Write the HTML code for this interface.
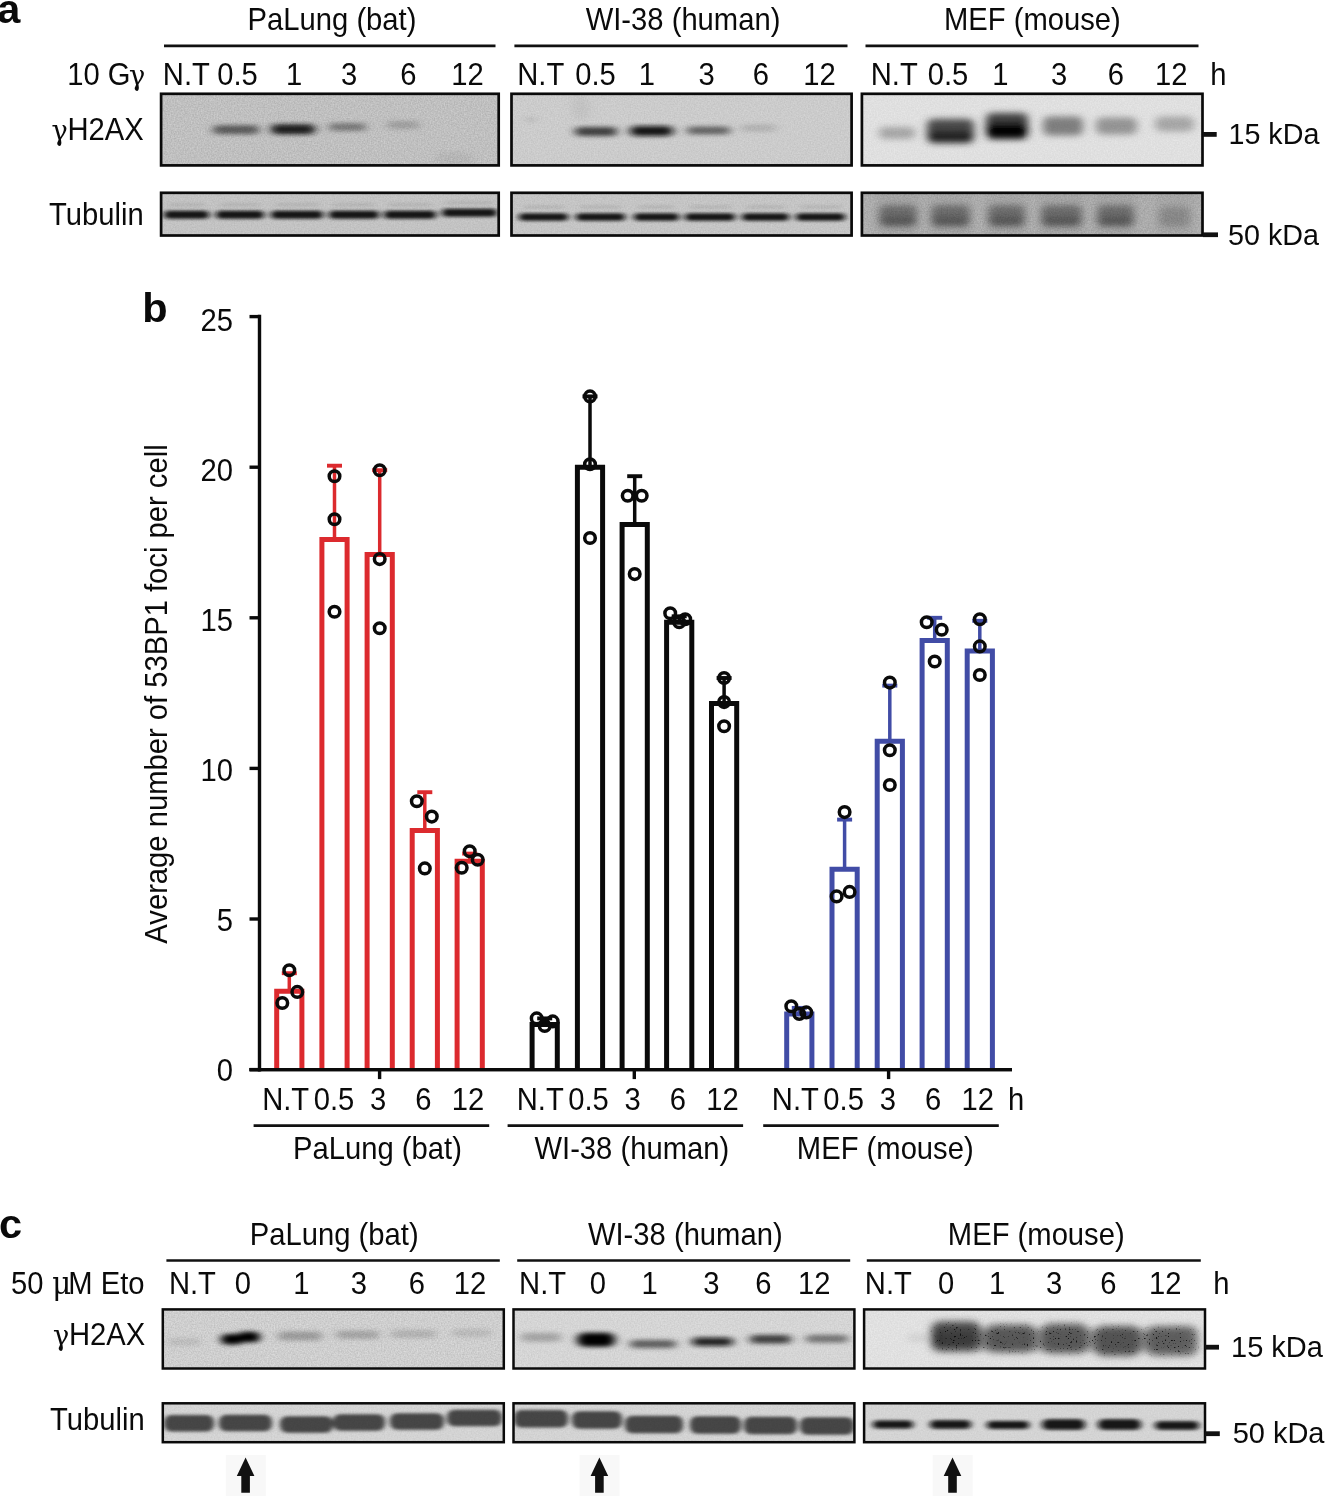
<!DOCTYPE html>
<html lang="en">
<head>
<meta charset="utf-8">
<title>DNA damage response in bat, human and mouse cells</title>
<style>
html,body{margin:0;padding:0;background:#fff}
svg{display:block}
text{font-family:"Liberation Sans",Arial,Helvetica,sans-serif;fill:#0a0a0a}
</style>
</head>
<body>
<svg width="1325" height="1496" viewBox="0 0 1325 1496">
<defs>
<filter id="bl2p5_1p8" x="-20%" y="-200%" width="140%" height="500%"><feGaussianBlur stdDeviation="2.5 1.8"/></filter>
<filter id="bl3_1p5" x="-20%" y="-200%" width="140%" height="500%"><feGaussianBlur stdDeviation="3 1.5"/></filter>
<filter id="bl4_2" x="-20%" y="-200%" width="140%" height="500%"><feGaussianBlur stdDeviation="4 2"/></filter>
<filter id="bl4_3" x="-20%" y="-200%" width="140%" height="500%"><feGaussianBlur stdDeviation="4 3"/></filter>
<filter id="bl4p5_3p5" x="-20%" y="-200%" width="140%" height="500%"><feGaussianBlur stdDeviation="4.5 3.5"/></filter>
<filter id="bl5_2" x="-20%" y="-200%" width="140%" height="500%"><feGaussianBlur stdDeviation="5 2"/></filter>
<filter id="bl6_4" x="-20%" y="-200%" width="140%" height="500%"><feGaussianBlur stdDeviation="6 4"/></filter>
<filter id="speck" x="-10%" y="-30%" width="120%" height="160%"><feGaussianBlur stdDeviation="4 3" result="b"/><feTurbulence type="fractalNoise" baseFrequency="0.55" numOctaves="2" seed="11" result="t"/><feColorMatrix in="t" type="matrix" values="0 0 0 0 0  0 0 0 0 0  0 0 0 0 0  9 0 0 0 -5.9" result="n"/><feComposite in="n" in2="b" operator="in"/></filter>
<filter id="noise" x="0" y="0" width="100%" height="100%"><feTurbulence type="fractalNoise" baseFrequency="0.7" numOctaves="2" seed="3"/><feColorMatrix type="matrix" values="0 0 0 0 0  0 0 0 0 0  0 0 0 0 0  1.6 0 0 0 -0.3"/></filter>
</defs>
<rect width="1325" height="1496" fill="#fff"/>
<g id="panel-a">
<text transform="translate(-2.85,22.70) scale(1,1.0)" font-size="41.5" font-weight="bold">a</text>
<text transform="translate(247.62,29.90) scale(1,1.045)" font-size="29.2">PaLung (bat)</text>
<text transform="translate(585.68,29.90) scale(1,1.045)" font-size="29.2">WI-38 (human)</text>
<text transform="translate(943.95,29.90) scale(1,1.045)" font-size="29.2">MEF (mouse)</text>
<line x1="164.0" y1="45.9" x2="495.5" y2="45.9" stroke="#111" stroke-width="2.6"/>
<line x1="514.4" y1="45.9" x2="847.5" y2="45.9" stroke="#111" stroke-width="2.6"/>
<line x1="865.5" y1="45.9" x2="1198.5" y2="45.9" stroke="#111" stroke-width="2.6"/>
<text transform="translate(0,84.8) scale(1,1.045)" font-size="29.2"><tspan x="67.21">10 G</tspan><tspan x="127.8" font-family="'DejaVu Math TeX Gyre','DejaVu Serif',serif" font-size="27.3">γ</tspan></text>
<text transform="translate(162.80,84.80) scale(1,1.045)" font-size="29.2">N.T</text>
<text transform="translate(217.22,84.80) scale(1,1.045)" font-size="29.2">0.5</text>
<text transform="translate(286.05,84.80) scale(1,1.045)" font-size="29.2">1</text>
<text transform="translate(340.97,84.80) scale(1,1.045)" font-size="29.2">3</text>
<text transform="translate(400.26,84.80) scale(1,1.045)" font-size="29.2">6</text>
<text transform="translate(451.32,84.80) scale(1,1.045)" font-size="29.2">12</text>
<text transform="translate(517.20,84.80) scale(1,1.045)" font-size="29.2">N.T</text>
<text transform="translate(575.17,84.80) scale(1,1.045)" font-size="29.2">0.5</text>
<text transform="translate(638.75,84.80) scale(1,1.045)" font-size="29.2">1</text>
<text transform="translate(698.62,84.80) scale(1,1.045)" font-size="29.2">3</text>
<text transform="translate(752.76,84.80) scale(1,1.045)" font-size="29.2">6</text>
<text transform="translate(803.17,84.80) scale(1,1.045)" font-size="29.2">12</text>
<text transform="translate(870.75,84.80) scale(1,1.045)" font-size="29.2">N.T</text>
<text transform="translate(927.72,84.80) scale(1,1.045)" font-size="29.2">0.5</text>
<text transform="translate(992.15,84.80) scale(1,1.045)" font-size="29.2">1</text>
<text transform="translate(1051.12,84.80) scale(1,1.045)" font-size="29.2">3</text>
<text transform="translate(1107.86,84.80) scale(1,1.045)" font-size="29.2">6</text>
<text transform="translate(1155.02,84.80) scale(1,1.045)" font-size="29.2">12</text>
<text transform="translate(1210.16,84.80) scale(1,1.045)" font-size="29.2">h</text>
<text transform="translate(0,139.5) scale(1,1.045)" font-size="29.2"><tspan x="50.3" font-family="'DejaVu Math TeX Gyre','DejaVu Serif',serif" font-size="27.3">γ</tspan><tspan x="67.50">H2AX</tspan></text>
<text transform="translate(48.97,224.80) scale(1,1.045)" font-size="29.2">Tubulin</text>
<text transform="translate(1228.45,144.00) scale(1,1.045)" font-size="28.7">15 kDa</text>
<text transform="translate(1228.07,245.00) scale(1,1.045)" font-size="28.7">50 kDa</text>
<clipPath id="c1"><rect x="161.1" y="93.8" width="337.6" height="71.60000000000001"/></clipPath>
<g clip-path="url(#c1)">
<rect x="161.1" y="93.8" width="337.6" height="71.60000000000001" fill="#cdcdcd"/>
<g filter="url(#bl5_2)">
<rect x="213.0" y="125.2" width="46.0" height="9.0" rx="4.5" fill="rgb(60,60,60)" opacity="0.75"/>
<rect x="271.0" y="124.3" width="44.0" height="10.0" rx="5.0" fill="rgb(20,20,20)" opacity="0.95"/>
<rect x="329.0" y="123.0" width="37.0" height="8.0" rx="4.0" fill="rgb(80,80,80)" opacity="0.6"/>
<rect x="387.0" y="121.0" width="32.0" height="8.0" rx="4.0" fill="rgb(110,110,110)" opacity="0.38"/>
<rect x="436.0" y="152.0" width="38.0" height="16.0" rx="8.0" fill="rgb(150,150,150)" opacity="0.2"/>
</g>
<rect x="161.1" y="93.8" width="337.6" height="71.60000000000001" filter="url(#noise)" opacity="0.13"/>
</g>
<rect x="161.1" y="93.8" width="337.6" height="71.60000000000001" fill="none" stroke="#0a0a0a" stroke-width="2.7"/>
<clipPath id="c2"><rect x="511.5" y="93.8" width="340.1" height="71.60000000000001"/></clipPath>
<g clip-path="url(#c2)">
<rect x="511.5" y="93.8" width="340.1" height="71.60000000000001" fill="#d4d4d4"/>
<g filter="url(#bl5_2)">
<rect x="529.0" y="117.8" width="4.0" height="3.5" rx="1.8" fill="rgb(110,110,110)" opacity="0.8"/>
<rect x="575.0" y="127.0" width="42.0" height="9.0" rx="4.5" fill="rgb(40,40,40)" opacity="0.85"/>
<rect x="630.0" y="126.0" width="43.0" height="10.0" rx="5.0" fill="rgb(15,15,15)" opacity="0.95"/>
<rect x="687.0" y="126.4" width="43.0" height="8.0" rx="4.0" fill="rgb(60,60,60)" opacity="0.7"/>
<rect x="741.0" y="124.5" width="35.0" height="7.0" rx="3.5" fill="rgb(140,140,140)" opacity="0.4"/>
<rect x="572.0" y="95.0" width="18.0" height="26.0" rx="13.0" fill="rgb(170,170,170)" opacity="0.25"/>
</g>
<rect x="511.5" y="93.8" width="340.1" height="71.60000000000001" filter="url(#noise)" opacity="0.08"/>
</g>
<rect x="511.5" y="93.8" width="340.1" height="71.60000000000001" fill="none" stroke="#0a0a0a" stroke-width="2.7"/>
<clipPath id="c3"><rect x="861.9" y="93.8" width="340.6" height="71.60000000000001"/></clipPath>
<g clip-path="url(#c3)">
<rect x="861.9" y="93.8" width="340.6" height="71.60000000000001" fill="#e6e6e6"/>
<g filter="url(#bl4_3)">
<rect x="879.0" y="127.0" width="36.0" height="12.0" rx="5.0" fill="rgb(150,150,150)" opacity="0.75"/>
<rect x="927.0" y="119.0" width="47.0" height="24.0" rx="6.0" fill="rgb(60,60,60)" opacity="0.9"/>
<rect x="929.0" y="131.0" width="43.0" height="12.0" rx="5.0" fill="rgb(20,20,20)" opacity="0.7"/>
<rect x="986.0" y="113.0" width="42.0" height="26.0" rx="6.0" fill="rgb(50,50,50)" opacity="0.9"/>
<rect x="987.0" y="123.5" width="40.0" height="15.0" rx="6.0" fill="rgb(0,0,0)" opacity="0.9"/>
<rect x="1043.0" y="116.5" width="40.0" height="19.0" rx="6.0" fill="rgb(105,105,105)" opacity="0.8"/>
<rect x="1096.0" y="117.5" width="41.0" height="17.0" rx="6.0" fill="rgb(125,125,125)" opacity="0.75"/>
<rect x="1155.0" y="116.5" width="39.0" height="15.0" rx="6.0" fill="rgb(145,145,145)" opacity="0.7"/>
</g>
<rect x="861.9" y="93.8" width="340.6" height="71.60000000000001" filter="url(#noise)" opacity="0.05"/>
</g>
<rect x="861.9" y="93.8" width="340.6" height="71.60000000000001" fill="none" stroke="#0a0a0a" stroke-width="2.7"/>
<clipPath id="c4"><rect x="161.1" y="192.8" width="337.6" height="42.69999999999999"/></clipPath>
<g clip-path="url(#c4)">
<rect x="161.1" y="192.8" width="337.6" height="42.69999999999999" fill="#cbcbcb"/>
<g filter="url(#bl3_1p5)">
<rect x="164.0" y="210.8" width="45.0" height="8.0" rx="4.0" fill="rgb(15,15,15)" opacity="0.95"/>
<rect x="216.0" y="210.8" width="48.0" height="8.0" rx="4.0" fill="rgb(15,15,15)" opacity="0.95"/>
<rect x="271.0" y="210.8" width="52.0" height="8.0" rx="4.0" fill="rgb(15,15,15)" opacity="0.95"/>
<rect x="329.0" y="210.8" width="50.0" height="8.0" rx="4.0" fill="rgb(15,15,15)" opacity="0.95"/>
<rect x="384.0" y="210.8" width="52.0" height="8.0" rx="4.0" fill="rgb(15,15,15)" opacity="0.95"/>
<rect x="442.0" y="208.8" width="55.0" height="8.0" rx="4.0" fill="rgb(15,15,15)" opacity="0.95"/>
<rect x="168.0" y="203.1" width="37.0" height="3.5" rx="1.8" fill="rgb(150,150,150)" opacity="0.3"/>
<rect x="220.0" y="203.1" width="40.0" height="3.5" rx="1.8" fill="rgb(150,150,150)" opacity="0.3"/>
<rect x="275.0" y="203.1" width="44.0" height="3.5" rx="1.8" fill="rgb(150,150,150)" opacity="0.3"/>
<rect x="333.0" y="203.1" width="42.0" height="3.5" rx="1.8" fill="rgb(150,150,150)" opacity="0.3"/>
<rect x="388.0" y="203.1" width="44.0" height="3.5" rx="1.8" fill="rgb(150,150,150)" opacity="0.3"/>
<rect x="446.0" y="201.1" width="47.0" height="3.5" rx="1.8" fill="rgb(150,150,150)" opacity="0.3"/>
</g>
<rect x="161.1" y="192.8" width="337.6" height="42.69999999999999" filter="url(#noise)" opacity="0.08"/>
</g>
<rect x="161.1" y="192.8" width="337.6" height="42.69999999999999" fill="none" stroke="#0a0a0a" stroke-width="2.7"/>
<clipPath id="c5"><rect x="511.5" y="192.8" width="340.1" height="42.69999999999999"/></clipPath>
<g clip-path="url(#c5)">
<rect x="511.5" y="192.8" width="340.1" height="42.69999999999999" fill="#cdcdcd"/>
<g filter="url(#bl3_1p5)">
<rect x="519.0" y="213.2" width="49.0" height="7.5" rx="3.8" fill="rgb(15,15,15)" opacity="0.95"/>
<rect x="576.0" y="213.2" width="49.0" height="7.5" rx="3.8" fill="rgb(15,15,15)" opacity="0.95"/>
<rect x="634.0" y="213.2" width="45.0" height="7.5" rx="3.8" fill="rgb(15,15,15)" opacity="0.95"/>
<rect x="685.0" y="213.2" width="50.0" height="7.5" rx="3.8" fill="rgb(15,15,15)" opacity="0.95"/>
<rect x="742.0" y="213.2" width="47.0" height="7.5" rx="3.8" fill="rgb(15,15,15)" opacity="0.95"/>
<rect x="796.0" y="213.2" width="49.0" height="7.5" rx="3.8" fill="rgb(15,15,15)" opacity="0.95"/>
<rect x="523.0" y="205.2" width="41.0" height="3.5" rx="1.8" fill="rgb(150,150,150)" opacity="0.3"/>
<rect x="580.0" y="205.2" width="41.0" height="3.5" rx="1.8" fill="rgb(150,150,150)" opacity="0.3"/>
<rect x="638.0" y="205.2" width="37.0" height="3.5" rx="1.8" fill="rgb(150,150,150)" opacity="0.3"/>
<rect x="689.0" y="205.2" width="42.0" height="3.5" rx="1.8" fill="rgb(150,150,150)" opacity="0.3"/>
<rect x="746.0" y="205.2" width="39.0" height="3.5" rx="1.8" fill="rgb(150,150,150)" opacity="0.3"/>
<rect x="800.0" y="205.2" width="41.0" height="3.5" rx="1.8" fill="rgb(150,150,150)" opacity="0.3"/>
</g>
<rect x="511.5" y="192.8" width="340.1" height="42.69999999999999" filter="url(#noise)" opacity="0.08"/>
</g>
<rect x="511.5" y="192.8" width="340.1" height="42.69999999999999" fill="none" stroke="#0a0a0a" stroke-width="2.7"/>
<clipPath id="c6"><rect x="861.9" y="192.8" width="340.6" height="42.69999999999999"/></clipPath>
<g clip-path="url(#c6)">
<rect x="861.9" y="192.8" width="340.6" height="42.69999999999999" fill="#bababa"/>
<g filter="url(#bl4_3)">
<rect x="877.0" y="188.0" width="42.0" height="50.0" rx="3.0" fill="rgb(150,150,150)" opacity="0.25"/>
<rect x="929.0" y="188.0" width="43.0" height="50.0" rx="3.0" fill="rgb(150,150,150)" opacity="0.25"/>
<rect x="986.0" y="188.0" width="41.0" height="50.0" rx="3.0" fill="rgb(150,150,150)" opacity="0.25"/>
<rect x="1039.0" y="188.0" width="45.0" height="50.0" rx="3.0" fill="rgb(150,150,150)" opacity="0.25"/>
<rect x="1095.0" y="188.0" width="41.0" height="50.0" rx="3.0" fill="rgb(150,150,150)" opacity="0.25"/>
<rect x="1156.0" y="188.0" width="36.0" height="50.0" rx="3.0" fill="rgb(150,150,150)" opacity="0.25"/>
<rect x="879.0" y="205.0" width="38.0" height="22.0" rx="6.0" fill="rgb(95,95,95)" opacity="0.75"/>
<rect x="931.0" y="205.0" width="39.0" height="22.0" rx="6.0" fill="rgb(95,95,95)" opacity="0.75"/>
<rect x="988.0" y="205.0" width="37.0" height="22.0" rx="6.0" fill="rgb(95,95,95)" opacity="0.75"/>
<rect x="1041.0" y="205.0" width="41.0" height="22.0" rx="6.0" fill="rgb(95,95,95)" opacity="0.75"/>
<rect x="1097.0" y="205.0" width="37.0" height="22.0" rx="6.0" fill="rgb(95,95,95)" opacity="0.75"/>
<rect x="1159.0" y="207.0" width="31.0" height="20.0" rx="6.0" fill="rgb(120,120,120)" opacity="0.55"/>
<rect x="881.0" y="216.5" width="34.0" height="9.0" rx="4.0" fill="rgb(70,70,70)" opacity="0.5"/>
<rect x="933.0" y="216.5" width="35.0" height="9.0" rx="4.0" fill="rgb(70,70,70)" opacity="0.5"/>
<rect x="990.0" y="216.5" width="33.0" height="9.0" rx="4.0" fill="rgb(70,70,70)" opacity="0.5"/>
<rect x="1043.0" y="216.5" width="37.0" height="9.0" rx="4.0" fill="rgb(70,70,70)" opacity="0.5"/>
<rect x="1099.0" y="216.5" width="33.0" height="9.0" rx="4.0" fill="rgb(70,70,70)" opacity="0.5"/>
</g>
<rect x="861.9" y="192.8" width="340.6" height="42.69999999999999" filter="url(#noise)" opacity="0.14"/>
</g>
<rect x="861.9" y="192.8" width="340.6" height="42.69999999999999" fill="none" stroke="#0a0a0a" stroke-width="2.7"/>
<rect x="1203" y="132.0" width="13.7" height="4.8" fill="#111"/>
<rect x="1203" y="232.4" width="15" height="4.7" fill="#111"/>
</g>
<g id="panel-b">
<text transform="translate(142.13,322.30) scale(1,1.0)" font-size="41.5" font-weight="bold">b</text>
<line x1="259.5" y1="314.8" x2="259.5" y2="1071.4" stroke="#0a0a0a" stroke-width="3.4"/>
<line x1="249.5" y1="1069.6" x2="1012" y2="1069.6" stroke="#0a0a0a" stroke-width="3.4"/>
<line x1="249.5" y1="1069.6" x2="260" y2="1069.6" stroke="#0a0a0a" stroke-width="3.4"/>
<text transform="translate(233,1081.2) scale(1,1.045)" font-size="29.2" text-anchor="end">0</text>
<line x1="249.5" y1="919.0" x2="260" y2="919.0" stroke="#0a0a0a" stroke-width="3.4"/>
<text transform="translate(233,931.1) scale(1,1.045)" font-size="29.2" text-anchor="end">5</text>
<line x1="249.5" y1="768.4" x2="260" y2="768.4" stroke="#0a0a0a" stroke-width="3.4"/>
<text transform="translate(233,781.0) scale(1,1.045)" font-size="29.2" text-anchor="end">10</text>
<line x1="249.5" y1="617.8" x2="260" y2="617.8" stroke="#0a0a0a" stroke-width="3.4"/>
<text transform="translate(233,630.8) scale(1,1.045)" font-size="29.2" text-anchor="end">15</text>
<line x1="249.5" y1="467.2" x2="260" y2="467.2" stroke="#0a0a0a" stroke-width="3.4"/>
<text transform="translate(233,480.7) scale(1,1.045)" font-size="29.2" text-anchor="end">20</text>
<line x1="249.5" y1="316.6" x2="260" y2="316.6" stroke="#0a0a0a" stroke-width="3.4"/>
<text transform="translate(233,330.6) scale(1,1.045)" font-size="29.2" text-anchor="end">25</text>
<line x1="379.6" y1="1069.6" x2="379.6" y2="1079.1" stroke="#0a0a0a" stroke-width="3.4"/>
<line x1="634.3" y1="1069.6" x2="634.3" y2="1079.1" stroke="#0a0a0a" stroke-width="3.4"/>
<line x1="888.6" y1="1069.6" x2="888.6" y2="1079.1" stroke="#0a0a0a" stroke-width="3.4"/>
<text transform="translate(167.2,694) rotate(-90) scale(1,1.045)" font-size="29.2" text-anchor="middle">Average number of 53BP1 foci per cell</text>
<path d="M276.7 1069.6V991.3H301.9V1069.6" fill="none" stroke="#dc2a2e" stroke-width="5.0"/>
<path d="M289.3 991.3V973.2" fill="none" stroke="#dc2a2e" stroke-width="3.5"/>
<path d="M281.8 973.2H296.8" fill="none" stroke="#dc2a2e" stroke-width="3.9"/>
<path d="M321.9 1069.6V539.5H347.1V1069.6" fill="none" stroke="#dc2a2e" stroke-width="5.0"/>
<path d="M334.5 539.5V465.7" fill="none" stroke="#dc2a2e" stroke-width="3.5"/>
<path d="M327.0 465.7H342.0" fill="none" stroke="#dc2a2e" stroke-width="3.9"/>
<path d="M367.1 1069.6V554.5H392.3V1069.6" fill="none" stroke="#dc2a2e" stroke-width="5.0"/>
<path d="M379.7 554.5V470.2" fill="none" stroke="#dc2a2e" stroke-width="3.5"/>
<path d="M372.2 470.2H387.2" fill="none" stroke="#dc2a2e" stroke-width="3.9"/>
<path d="M412.2 1069.6V830.4H437.4V1069.6" fill="none" stroke="#dc2a2e" stroke-width="5.0"/>
<path d="M424.8 830.4V792.2" fill="none" stroke="#dc2a2e" stroke-width="3.5"/>
<path d="M417.3 792.2H432.3" fill="none" stroke="#dc2a2e" stroke-width="3.9"/>
<path d="M457.1 1069.6V861.2H482.3V1069.6" fill="none" stroke="#dc2a2e" stroke-width="5.0"/>
<path d="M469.7 861.2V853.6" fill="none" stroke="#dc2a2e" stroke-width="3.5"/>
<path d="M462.2 853.6H477.2" fill="none" stroke="#dc2a2e" stroke-width="3.9"/>
<circle cx="282.3" cy="1003.0" r="5.3" fill="none" stroke="#0a0a0a" stroke-width="3.5"/>
<circle cx="289.3" cy="970.2" r="5.3" fill="none" stroke="#0a0a0a" stroke-width="3.5"/>
<circle cx="297.3" cy="991.9" r="5.3" fill="none" stroke="#0a0a0a" stroke-width="3.5"/>
<circle cx="334.5" cy="476.2" r="5.3" fill="none" stroke="#0a0a0a" stroke-width="3.5"/>
<circle cx="334.5" cy="519.3" r="5.3" fill="none" stroke="#0a0a0a" stroke-width="3.5"/>
<circle cx="334.5" cy="611.8" r="5.3" fill="none" stroke="#0a0a0a" stroke-width="3.5"/>
<circle cx="379.7" cy="470.2" r="5.3" fill="none" stroke="#0a0a0a" stroke-width="3.5"/>
<circle cx="379.7" cy="559.1" r="5.3" fill="none" stroke="#0a0a0a" stroke-width="3.5"/>
<circle cx="379.7" cy="628.3" r="5.3" fill="none" stroke="#0a0a0a" stroke-width="3.5"/>
<circle cx="416.8" cy="801.2" r="5.3" fill="none" stroke="#0a0a0a" stroke-width="3.5"/>
<circle cx="431.8" cy="816.6" r="5.3" fill="none" stroke="#0a0a0a" stroke-width="3.5"/>
<circle cx="424.8" cy="868.4" r="5.3" fill="none" stroke="#0a0a0a" stroke-width="3.5"/>
<circle cx="461.7" cy="867.8" r="5.3" fill="none" stroke="#0a0a0a" stroke-width="3.5"/>
<circle cx="469.7" cy="851.2" r="5.3" fill="none" stroke="#0a0a0a" stroke-width="3.5"/>
<circle cx="477.7" cy="859.7" r="5.3" fill="none" stroke="#0a0a0a" stroke-width="3.5"/>
<path d="M532.1 1069.6V1024.4H557.3V1069.6" fill="none" stroke="#0a0a0a" stroke-width="5.0"/>
<path d="M544.7 1024.4V1018.4" fill="none" stroke="#0a0a0a" stroke-width="3.5"/>
<path d="M537.2 1018.4H552.2" fill="none" stroke="#0a0a0a" stroke-width="3.9"/>
<path d="M577.4 1069.6V467.2H602.6V1069.6" fill="none" stroke="#0a0a0a" stroke-width="5.0"/>
<path d="M590.0 467.2V396.4" fill="none" stroke="#0a0a0a" stroke-width="3.5"/>
<path d="M582.5 396.4H597.5" fill="none" stroke="#0a0a0a" stroke-width="3.9"/>
<path d="M622.1 1069.6V524.4H647.3V1069.6" fill="none" stroke="#0a0a0a" stroke-width="5.0"/>
<path d="M634.7 524.4V476.2" fill="none" stroke="#0a0a0a" stroke-width="3.5"/>
<path d="M627.2 476.2H642.2" fill="none" stroke="#0a0a0a" stroke-width="3.9"/>
<path d="M666.6 1069.6V622.3H691.8V1069.6" fill="none" stroke="#0a0a0a" stroke-width="5.0"/>
<path d="M679.2 622.3V616.3" fill="none" stroke="#0a0a0a" stroke-width="3.5"/>
<path d="M671.7 616.3H686.7" fill="none" stroke="#0a0a0a" stroke-width="3.9"/>
<path d="M711.5 1069.6V703.6H736.7V1069.6" fill="none" stroke="#0a0a0a" stroke-width="5.0"/>
<path d="M724.1 703.6V678.0" fill="none" stroke="#0a0a0a" stroke-width="3.5"/>
<path d="M716.6 678.0H731.6" fill="none" stroke="#0a0a0a" stroke-width="3.9"/>
<circle cx="536.7" cy="1018.4" r="5.3" fill="none" stroke="#0a0a0a" stroke-width="3.5"/>
<circle cx="544.7" cy="1025.9" r="5.3" fill="none" stroke="#0a0a0a" stroke-width="3.5"/>
<circle cx="552.7" cy="1021.4" r="5.3" fill="none" stroke="#0a0a0a" stroke-width="3.5"/>
<circle cx="590.0" cy="396.4" r="5.3" fill="none" stroke="#0a0a0a" stroke-width="3.5"/>
<circle cx="590.0" cy="464.2" r="5.3" fill="none" stroke="#0a0a0a" stroke-width="3.5"/>
<circle cx="590.0" cy="538.0" r="5.3" fill="none" stroke="#0a0a0a" stroke-width="3.5"/>
<circle cx="627.7" cy="495.8" r="5.3" fill="none" stroke="#0a0a0a" stroke-width="3.5"/>
<circle cx="641.7" cy="495.8" r="5.3" fill="none" stroke="#0a0a0a" stroke-width="3.5"/>
<circle cx="634.7" cy="574.1" r="5.3" fill="none" stroke="#0a0a0a" stroke-width="3.5"/>
<circle cx="670.2" cy="613.3" r="5.3" fill="none" stroke="#0a0a0a" stroke-width="3.5"/>
<circle cx="679.2" cy="622.3" r="5.3" fill="none" stroke="#0a0a0a" stroke-width="3.5"/>
<circle cx="685.2" cy="619.3" r="5.3" fill="none" stroke="#0a0a0a" stroke-width="3.5"/>
<circle cx="724.1" cy="678.0" r="5.3" fill="none" stroke="#0a0a0a" stroke-width="3.5"/>
<circle cx="724.1" cy="702.1" r="5.3" fill="none" stroke="#0a0a0a" stroke-width="3.5"/>
<circle cx="724.1" cy="726.2" r="5.3" fill="none" stroke="#0a0a0a" stroke-width="3.5"/>
<path d="M786.7 1069.6V1013.9H811.9V1069.6" fill="none" stroke="#414ca6" stroke-width="5.0"/>
<path d="M799.3 1013.9V1007.9" fill="none" stroke="#414ca6" stroke-width="3.5"/>
<path d="M791.8 1007.9H806.8" fill="none" stroke="#414ca6" stroke-width="3.9"/>
<path d="M832.0 1069.6V869.3H857.2V1069.6" fill="none" stroke="#414ca6" stroke-width="5.0"/>
<path d="M844.6 869.3V819.6" fill="none" stroke="#414ca6" stroke-width="3.5"/>
<path d="M837.1 819.6H852.1" fill="none" stroke="#414ca6" stroke-width="3.9"/>
<path d="M877.2 1069.6V741.3H902.4V1069.6" fill="none" stroke="#414ca6" stroke-width="5.0"/>
<path d="M889.8 741.3V685.6" fill="none" stroke="#414ca6" stroke-width="3.5"/>
<path d="M882.3 685.6H897.3" fill="none" stroke="#414ca6" stroke-width="3.9"/>
<path d="M922.1 1069.6V640.4H947.3V1069.6" fill="none" stroke="#414ca6" stroke-width="5.0"/>
<path d="M934.7 640.4V617.8" fill="none" stroke="#414ca6" stroke-width="3.5"/>
<path d="M927.2 617.8H942.2" fill="none" stroke="#414ca6" stroke-width="3.9"/>
<path d="M967.2 1069.6V650.9H992.4V1069.6" fill="none" stroke="#414ca6" stroke-width="5.0"/>
<path d="M979.8 650.9V620.8" fill="none" stroke="#414ca6" stroke-width="3.5"/>
<path d="M972.3 620.8H987.3" fill="none" stroke="#414ca6" stroke-width="3.9"/>
<circle cx="791.3" cy="1006.3" r="5.3" fill="none" stroke="#0a0a0a" stroke-width="3.5"/>
<circle cx="799.3" cy="1013.9" r="5.3" fill="none" stroke="#0a0a0a" stroke-width="3.5"/>
<circle cx="806.3" cy="1012.4" r="5.3" fill="none" stroke="#0a0a0a" stroke-width="3.5"/>
<circle cx="844.6" cy="812.1" r="5.3" fill="none" stroke="#0a0a0a" stroke-width="3.5"/>
<circle cx="836.6" cy="896.4" r="5.3" fill="none" stroke="#0a0a0a" stroke-width="3.5"/>
<circle cx="849.6" cy="891.9" r="5.3" fill="none" stroke="#0a0a0a" stroke-width="3.5"/>
<circle cx="889.8" cy="682.6" r="5.3" fill="none" stroke="#0a0a0a" stroke-width="3.5"/>
<circle cx="889.8" cy="750.3" r="5.3" fill="none" stroke="#0a0a0a" stroke-width="3.5"/>
<circle cx="889.8" cy="785.0" r="5.3" fill="none" stroke="#0a0a0a" stroke-width="3.5"/>
<circle cx="926.7" cy="622.3" r="5.3" fill="none" stroke="#0a0a0a" stroke-width="3.5"/>
<circle cx="941.7" cy="629.8" r="5.3" fill="none" stroke="#0a0a0a" stroke-width="3.5"/>
<circle cx="934.7" cy="661.5" r="5.3" fill="none" stroke="#0a0a0a" stroke-width="3.5"/>
<circle cx="979.8" cy="619.3" r="5.3" fill="none" stroke="#0a0a0a" stroke-width="3.5"/>
<circle cx="979.8" cy="646.4" r="5.3" fill="none" stroke="#0a0a0a" stroke-width="3.5"/>
<circle cx="979.8" cy="675.0" r="5.3" fill="none" stroke="#0a0a0a" stroke-width="3.5"/>
<line x1="249.5" y1="1069.6" x2="1012" y2="1069.6" stroke="#0a0a0a" stroke-width="3.4"/>
<text transform="translate(262.15,1109.70) scale(1,1.045)" font-size="29.2">N.T</text>
<text transform="translate(313.67,1109.70) scale(1,1.045)" font-size="29.2">0.5</text>
<text transform="translate(369.97,1109.70) scale(1,1.045)" font-size="29.2">3</text>
<text transform="translate(415.21,1109.70) scale(1,1.045)" font-size="29.2">6</text>
<text transform="translate(451.72,1109.70) scale(1,1.045)" font-size="29.2">12</text>
<text transform="translate(516.75,1109.70) scale(1,1.045)" font-size="29.2">N.T</text>
<text transform="translate(568.27,1109.70) scale(1,1.045)" font-size="29.2">0.5</text>
<text transform="translate(624.57,1109.70) scale(1,1.045)" font-size="29.2">3</text>
<text transform="translate(669.81,1109.70) scale(1,1.045)" font-size="29.2">6</text>
<text transform="translate(706.32,1109.70) scale(1,1.045)" font-size="29.2">12</text>
<text transform="translate(771.85,1109.70) scale(1,1.045)" font-size="29.2">N.T</text>
<text transform="translate(823.37,1109.70) scale(1,1.045)" font-size="29.2">0.5</text>
<text transform="translate(879.67,1109.70) scale(1,1.045)" font-size="29.2">3</text>
<text transform="translate(924.91,1109.70) scale(1,1.045)" font-size="29.2">6</text>
<text transform="translate(961.42,1109.70) scale(1,1.045)" font-size="29.2">12</text>
<text transform="translate(1008.01,1109.70) scale(1,1.045)" font-size="29.2">h</text>
<line x1="253.6" y1="1125.6" x2="489.2" y2="1125.6" stroke="#111" stroke-width="2.6"/>
<line x1="507.6" y1="1125.6" x2="743.1" y2="1125.6" stroke="#111" stroke-width="2.6"/>
<line x1="763.2" y1="1125.6" x2="998.8" y2="1125.6" stroke="#111" stroke-width="2.6"/>
<text transform="translate(293.07,1158.80) scale(1,1.045)" font-size="29.2">PaLung (bat)</text>
<text transform="translate(534.48,1158.80) scale(1,1.045)" font-size="29.2">WI-38 (human)</text>
<text transform="translate(796.85,1158.80) scale(1,1.045)" font-size="29.2">MEF (mouse)</text>
</g>
<g id="panel-c">
<text transform="translate(-1.01,1237.60) scale(1,1.0)" font-size="41.5" font-weight="bold">c</text>
<text transform="translate(249.82,1244.60) scale(1,1.045)" font-size="29.2">PaLung (bat)</text>
<text transform="translate(587.93,1244.60) scale(1,1.045)" font-size="29.2">WI-38 (human)</text>
<text transform="translate(947.85,1244.60) scale(1,1.045)" font-size="29.2">MEF (mouse)</text>
<line x1="166.4" y1="1260.5" x2="499.8" y2="1260.5" stroke="#111" stroke-width="2.6"/>
<line x1="517.2" y1="1260.5" x2="850.2" y2="1260.5" stroke="#111" stroke-width="2.6"/>
<line x1="866.8" y1="1260.5" x2="1200.8" y2="1260.5" stroke="#111" stroke-width="2.6"/>
<text transform="translate(0,1293.7) scale(1,1.045)" font-size="29.2"><tspan x="10.95">50 </tspan><tspan x="50.7" font-family="'DejaVu Math TeX Gyre','DejaVu Serif',serif" font-size="29.5">μ</tspan><tspan x="68.30">M Eto</tspan></text>
<text transform="translate(168.90,1293.70) scale(1,1.045)" font-size="29.2">N.T</text>
<text transform="translate(234.72,1293.70) scale(1,1.045)" font-size="29.2">0</text>
<text transform="translate(293.30,1293.70) scale(1,1.045)" font-size="29.2">1</text>
<text transform="translate(350.82,1293.70) scale(1,1.045)" font-size="29.2">3</text>
<text transform="translate(408.71,1293.70) scale(1,1.045)" font-size="29.2">6</text>
<text transform="translate(453.82,1293.70) scale(1,1.045)" font-size="29.2">12</text>
<text transform="translate(519.05,1293.70) scale(1,1.045)" font-size="29.2">N.T</text>
<text transform="translate(589.82,1293.70) scale(1,1.045)" font-size="29.2">0</text>
<text transform="translate(641.45,1293.70) scale(1,1.045)" font-size="29.2">1</text>
<text transform="translate(703.32,1293.70) scale(1,1.045)" font-size="29.2">3</text>
<text transform="translate(755.16,1293.70) scale(1,1.045)" font-size="29.2">6</text>
<text transform="translate(798.07,1293.70) scale(1,1.045)" font-size="29.2">12</text>
<text transform="translate(864.80,1293.70) scale(1,1.045)" font-size="29.2">N.T</text>
<text transform="translate(937.97,1293.70) scale(1,1.045)" font-size="29.2">0</text>
<text transform="translate(989.10,1293.70) scale(1,1.045)" font-size="29.2">1</text>
<text transform="translate(1046.02,1293.70) scale(1,1.045)" font-size="29.2">3</text>
<text transform="translate(1100.26,1293.70) scale(1,1.045)" font-size="29.2">6</text>
<text transform="translate(1149.07,1293.70) scale(1,1.045)" font-size="29.2">12</text>
<text transform="translate(1213.26,1293.70) scale(1,1.045)" font-size="29.2">h</text>
<text transform="translate(0,1345.2) scale(1,1.045)" font-size="29.2"><tspan x="51.8" font-family="'DejaVu Math TeX Gyre','DejaVu Serif',serif" font-size="27.3">γ</tspan><tspan x="68.90">H2AX</tspan></text>
<text transform="translate(50.07,1429.80) scale(1,1.045)" font-size="29.2">Tubulin</text>
<text transform="translate(1231.03,1357.00) scale(1,1.045)" font-size="29.0">15 kDa</text>
<text transform="translate(1232.66,1442.90) scale(1,1.045)" font-size="29.0">50 kDa</text>
<clipPath id="c7"><rect x="162.8" y="1309.4" width="341.0" height="59.09999999999991"/></clipPath>
<g clip-path="url(#c7)">
<rect x="162.8" y="1309.4" width="341.0" height="59.09999999999991" fill="#dcdcdc"/>
<g filter="url(#bl4_2)">
<rect x="168.0" y="1338.0" width="32.0" height="8.0" rx="4.0" fill="rgb(170,170,170)" opacity="0.4"/>
<rect x="221.0" y="1334.0" width="22.0" height="10.5" rx="5.2" fill="rgb(5,5,5)" opacity="1.0"/>
<rect x="238.0" y="1331.8" width="22.0" height="10.5" rx="5.2" fill="rgb(5,5,5)" opacity="1.0"/>
<rect x="278.0" y="1331.5" width="44.0" height="9.0" rx="4.5" fill="rgb(110,110,110)" opacity="0.5"/>
<rect x="336.0" y="1330.5" width="43.0" height="8.5" rx="4.2" fill="rgb(120,120,120)" opacity="0.45"/>
<rect x="391.0" y="1330.0" width="45.0" height="8.0" rx="4.0" fill="rgb(135,135,135)" opacity="0.38"/>
<rect x="452.0" y="1329.0" width="39.0" height="8.0" rx="4.0" fill="rgb(145,145,145)" opacity="0.32"/>
</g>
<rect x="162.8" y="1309.4" width="341.0" height="59.09999999999991" filter="url(#noise)" opacity="0.12"/>
</g>
<rect x="162.8" y="1309.4" width="341.0" height="59.09999999999991" fill="none" stroke="#0a0a0a" stroke-width="2.5"/>
<clipPath id="c8"><rect x="513.5" y="1309.4" width="340.9" height="59.09999999999991"/></clipPath>
<g clip-path="url(#c8)">
<rect x="513.5" y="1309.4" width="340.9" height="59.09999999999991" fill="#dedede"/>
<g filter="url(#bl5_2)">
<rect x="521.0" y="1332.8" width="40.0" height="9.0" rx="4.5" fill="rgb(120,120,120)" opacity="0.5"/>
<rect x="577.0" y="1332.8" width="38.0" height="14.0" rx="7.0" fill="rgb(0,0,0)" opacity="1.0"/>
<rect x="630.0" y="1340.0" width="46.0" height="8.0" rx="4.0" fill="rgb(50,50,50)" opacity="0.72"/>
<rect x="692.0" y="1337.5" width="41.0" height="8.5" rx="4.2" fill="rgb(10,10,10)" opacity="0.9"/>
<rect x="750.0" y="1335.0" width="41.0" height="8.5" rx="4.2" fill="rgb(25,25,25)" opacity="0.8"/>
<rect x="806.0" y="1334.7" width="42.0" height="8.0" rx="4.0" fill="rgb(60,60,60)" opacity="0.62"/>
</g>
<rect x="513.5" y="1309.4" width="340.9" height="59.09999999999991" filter="url(#noise)" opacity="0.08"/>
</g>
<rect x="513.5" y="1309.4" width="340.9" height="59.09999999999991" fill="none" stroke="#0a0a0a" stroke-width="2.5"/>
<clipPath id="c9"><rect x="864.1" y="1309.4" width="340.9" height="59.09999999999991"/></clipPath>
<g clip-path="url(#c9)">
<rect x="864.1" y="1309.4" width="340.9" height="59.09999999999991" fill="#e8e8e8"/>
<g filter="url(#bl4p5_3p5)">
<rect x="908.0" y="1336.0" width="22.0" height="4.0" rx="2.0" fill="rgb(150,150,150)" opacity="0.4"/>
<rect x="931.0" y="1321.5" width="50.0" height="30.0" rx="9.0" fill="rgb(45,45,45)" opacity="0.85"/>
<rect x="934.0" y="1332.0" width="42.0" height="14.0" rx="6.0" fill="rgb(20,20,20)" opacity="0.5"/>
<rect x="985.0" y="1324.5" width="51.0" height="28.0" rx="9.0" fill="rgb(70,70,70)" opacity="0.82"/>
<rect x="1041.0" y="1323.5" width="47.0" height="30.0" rx="9.0" fill="rgb(70,70,70)" opacity="0.82"/>
<rect x="1094.0" y="1326.0" width="47.0" height="30.0" rx="9.0" fill="rgb(60,60,60)" opacity="0.82"/>
<rect x="1146.0" y="1326.0" width="52.0" height="30.0" rx="9.0" fill="rgb(80,80,80)" opacity="0.8"/>
<rect x="940.0" y="1329.0" width="250.0" height="22.0" rx="8.0" fill="rgb(80,80,80)" opacity="0.45"/>
</g>
<g filter="url(#speck)" opacity="0.75">
<rect x="934.0" y="1323.5" width="44.0" height="26.0" rx="8" fill="#000"/>
<rect x="988.0" y="1326.5" width="45.0" height="24.0" rx="8" fill="#000"/>
<rect x="1044.0" y="1325.5" width="41.0" height="26.0" rx="8" fill="#000"/>
<rect x="1097.0" y="1328.0" width="41.0" height="26.0" rx="8" fill="#000"/>
<rect x="1149.0" y="1328.0" width="46.0" height="26.0" rx="8" fill="#000"/>
<rect x="943.0" y="1331.0" width="244.0" height="18.0" rx="8" fill="#000"/>
</g>
<rect x="864.1" y="1309.4" width="340.9" height="59.09999999999991" filter="url(#noise)" opacity="0.06"/>
</g>
<rect x="864.1" y="1309.4" width="340.9" height="59.09999999999991" fill="none" stroke="#0a0a0a" stroke-width="2.5"/>
<clipPath id="c10"><rect x="162.8" y="1403.3" width="341.0" height="38.90000000000009"/></clipPath>
<g clip-path="url(#c10)">
<rect x="162.8" y="1403.3" width="341.0" height="38.90000000000009" fill="#dadada"/>
<g filter="url(#bl2p5_1p8)">
<rect x="164.0" y="1415.0" width="50.0" height="16.5" rx="7.0" fill="rgb(55,55,55)" opacity="0.9"/>
<rect x="219.0" y="1414.8" width="53.0" height="16.5" rx="7.0" fill="rgb(55,55,55)" opacity="0.9"/>
<rect x="280.0" y="1416.2" width="53.0" height="16.5" rx="7.0" fill="rgb(55,55,55)" opacity="0.9"/>
<rect x="333.0" y="1414.2" width="52.0" height="16.5" rx="7.0" fill="rgb(55,55,55)" opacity="0.9"/>
<rect x="390.0" y="1413.2" width="54.0" height="16.5" rx="7.0" fill="rgb(55,55,55)" opacity="0.9"/>
<rect x="447.0" y="1409.8" width="55.0" height="16.5" rx="7.0" fill="rgb(55,55,55)" opacity="0.9"/>
</g>
<rect x="162.8" y="1403.3" width="341.0" height="38.90000000000009" filter="url(#noise)" opacity="0.06"/>
</g>
<rect x="162.8" y="1403.3" width="341.0" height="38.90000000000009" fill="none" stroke="#0a0a0a" stroke-width="2.5"/>
<clipPath id="c11"><rect x="513.5" y="1403.3" width="340.9" height="38.90000000000009"/></clipPath>
<g clip-path="url(#c11)">
<rect x="513.5" y="1403.3" width="340.9" height="38.90000000000009" fill="#dadada"/>
<g filter="url(#bl2p5_1p8)">
<rect x="514.0" y="1410.0" width="54.0" height="17.5" rx="7.0" fill="rgb(55,55,55)" opacity="0.9"/>
<rect x="572.0" y="1411.2" width="50.0" height="17.5" rx="7.0" fill="rgb(55,55,55)" opacity="0.9"/>
<rect x="625.0" y="1415.8" width="58.0" height="17.5" rx="7.0" fill="rgb(55,55,55)" opacity="0.9"/>
<rect x="690.0" y="1416.2" width="51.0" height="17.5" rx="7.0" fill="rgb(55,55,55)" opacity="0.9"/>
<rect x="744.0" y="1416.8" width="53.0" height="17.5" rx="7.0" fill="rgb(55,55,55)" opacity="0.9"/>
<rect x="800.0" y="1417.2" width="54.0" height="17.5" rx="7.0" fill="rgb(55,55,55)" opacity="0.9"/>
</g>
<rect x="513.5" y="1403.3" width="340.9" height="38.90000000000009" filter="url(#noise)" opacity="0.06"/>
</g>
<rect x="513.5" y="1403.3" width="340.9" height="38.90000000000009" fill="none" stroke="#0a0a0a" stroke-width="2.5"/>
<clipPath id="c12"><rect x="864.1" y="1403.3" width="340.9" height="38.90000000000009"/></clipPath>
<g clip-path="url(#c12)">
<rect x="864.1" y="1403.3" width="340.9" height="38.90000000000009" fill="#dadada"/>
<g filter="url(#bl3_1p5)">
<rect x="873.0" y="1420.5" width="40.0" height="8.0" rx="4.0" fill="rgb(10,10,10)" opacity="0.95"/>
<rect x="930.0" y="1420.2" width="41.0" height="8.5" rx="4.2" fill="rgb(10,10,10)" opacity="0.95"/>
<rect x="987.0" y="1421.0" width="42.0" height="8.0" rx="4.0" fill="rgb(10,10,10)" opacity="0.95"/>
<rect x="1042.0" y="1419.2" width="43.0" height="10.5" rx="5.2" fill="rgb(10,10,10)" opacity="0.95"/>
<rect x="1098.0" y="1419.2" width="43.0" height="10.5" rx="5.2" fill="rgb(10,10,10)" opacity="0.95"/>
<rect x="1155.0" y="1421.2" width="44.0" height="8.5" rx="4.2" fill="rgb(10,10,10)" opacity="0.95"/>
</g>
<rect x="864.1" y="1403.3" width="340.9" height="38.90000000000009" filter="url(#noise)" opacity="0.05"/>
</g>
<rect x="864.1" y="1403.3" width="340.9" height="38.90000000000009" fill="none" stroke="#0a0a0a" stroke-width="2.5"/>
<rect x="1205" y="1344.8" width="14" height="4.8" fill="#111"/>
<rect x="1205" y="1431.3" width="14.8" height="4.8" fill="#111"/>
<rect x="225.8" y="1455" width="40" height="41" fill="#f8f8f8"/>
<path d="M245.60000000000002 1457.6L254.40000000000003 1476H249.90000000000003V1492.8H241.3V1476H236.8Z" fill="#111"/>
<rect x="579.6" y="1455" width="40" height="41" fill="#f8f8f8"/>
<path d="M599.4 1457.6L608.1999999999999 1476H603.6999999999999V1492.8H595.1V1476H590.6Z" fill="#111"/>
<rect x="932.7" y="1455" width="40" height="41" fill="#f8f8f8"/>
<path d="M952.5 1457.6L961.3 1476H956.8V1492.8H948.2V1476H943.7Z" fill="#111"/>
</g>
</svg>
</body>
</html>
